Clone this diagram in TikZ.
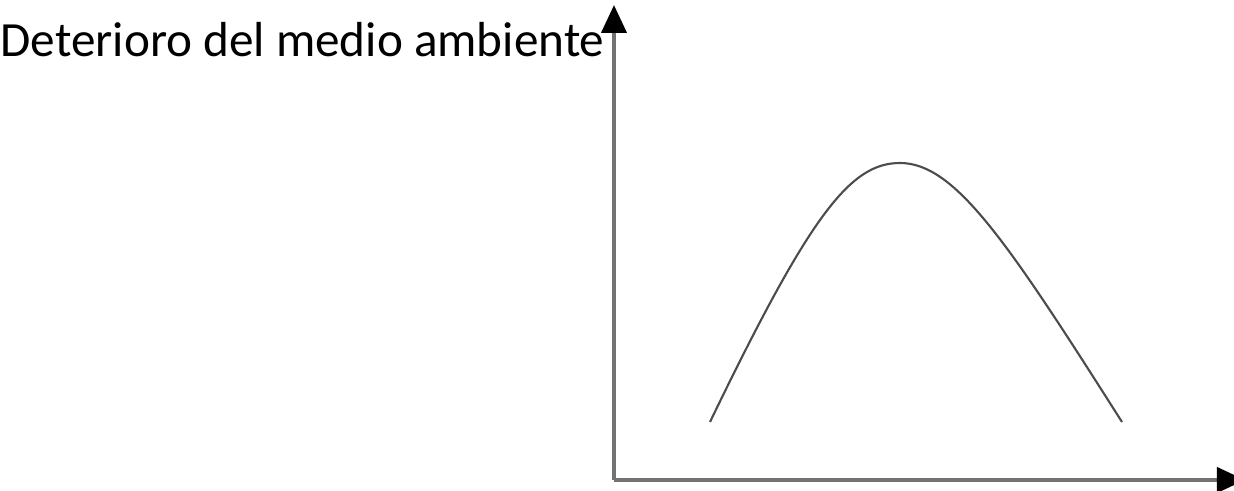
\documentclass[tikz,border=0pt]{standalone}
\usepackage{fontspec}
\setmainfont{Carlito}
\usetikzlibrary{arrows.meta,positioning,calc}

\begin{document}
\begin{tikzpicture}[
    % Define styles for the axes, the curve and the label
    axis/.style={
        draw=black!55,
        line width=1.15pt,
        -{Triangle[width=0.25cm,length=0.28cm,color=black]}
    },
    curve/.style={
        draw=black!70,
        line width=0.6pt
    },
    label/.style={
        anchor=base west,
        inner sep=0pt,
        font=\fontsize{14}{17}\selectfont
    }
]
\useasboundingbox (0,0) rectangle (12.34,4.91);

% Place the points
\coordinate (origin) at (6.14,0.11);
\coordinate (ytop) at (6.14,4.86);
\coordinate (xend) at (12.45,0.11);
\coordinate (start) at (7.10,0.69);
\coordinate (peak) at (9.00,3.28);
\coordinate (stop) at (11.22,0.69);

% Label of the vertical axis
\node[label] (deterioro) at (0.00,4.34) {Deterioro del medio ambiente};

% Draw the axes
\draw[axis] (origin) -- (ytop);
\draw[axis] (origin) -- (xend);

% Draw the curve
\draw[curve] (start) .. controls (8.10,2.76) and (8.50,3.28) .. (peak)
    .. controls (9.55,3.28) and (10.07,2.50) .. (stop);

\end{tikzpicture}
\end{document}
